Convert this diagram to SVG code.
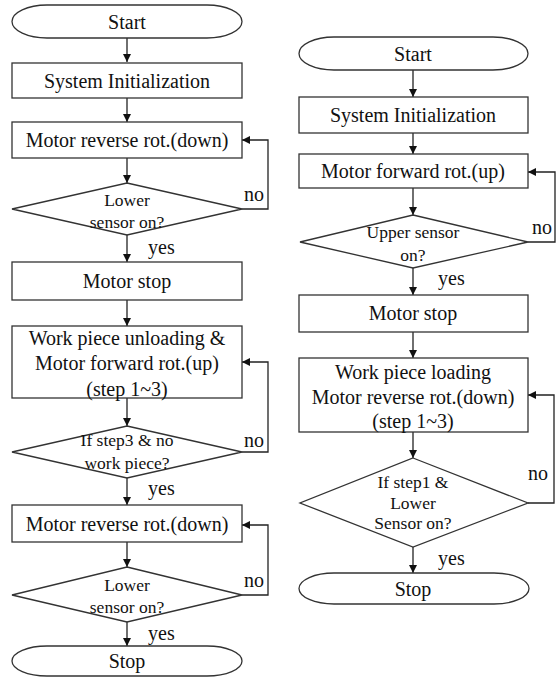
<svg xmlns="http://www.w3.org/2000/svg" width="558" height="677" viewBox="0 0 558 677">
<defs>
<marker id="ah" viewBox="0 0 10 10" refX="10" refY="5" markerWidth="8" markerHeight="8" markerUnits="userSpaceOnUse" orient="auto">
<path d="M0,0 L10,5 L0,10 z" fill="#111"/>
</marker>
</defs>
<style>
.s{fill:#fff;stroke:#333;stroke-width:1.3}
.t{font-family:"Liberation Serif","Times New Roman",serif;font-size:20px;fill:#111;text-anchor:middle;dominant-baseline:central}
.d{font-size:17.5px}
.l{font-family:"Liberation Serif","Times New Roman",serif;font-size:20px;fill:#111;dominant-baseline:central}
.c{fill:none;stroke:#222;stroke-width:1.3;marker-end:url(#ah)}
</style>
<rect width="558" height="677" fill="#fff"/>

<g id="connectors">
<path class="c" d="M127,38 V62"/>
<path class="c" d="M127,98 V122"/>
<path class="c" d="M127,158 V183"/>
<path class="c" d="M127,235 V262"/>
<path class="c" d="M127,300 V326"/>
<path class="c" d="M127,398 V426"/>
<path class="c" d="M127,478 V505"/>
<path class="c" d="M127,542 V567"/>
<path class="c" d="M127,622 V646"/>
<path class="c" d="M242,209 H268 V140 H242"/>
<path class="c" d="M242,452 H268 V362 H242"/>
<path class="c" d="M242,595 H268 V525 H242"/>

<path class="c" d="M413,70 V97"/>
<path class="c" d="M413,133 V154"/>
<path class="c" d="M413,188 V215"/>
<path class="c" d="M413,268 V295"/>
<path class="c" d="M413,332 V358"/>
<path class="c" d="M413,432 V458"/>
<path class="c" d="M413,547 V573"/>
<path class="c" d="M528,242 H555 V172 H528"/>
<path class="c" d="M528,503 H554 V395 H528"/>
<text class="l" x="148" y="247">yes</text>
<text class="l" x="148" y="488">yes</text>
<text class="l" x="148" y="633">yes</text>
<text class="l" x="244" y="194">no</text>
<text class="l" x="244" y="440">no</text>
<text class="l" x="244" y="580">no</text>
<text class="l" x="438" y="278">yes</text>
<text class="l" x="438" y="558">yes</text>
<text class="l" x="532" y="227">no</text>
<text class="l" x="528" y="473">no</text>
</g>

<g id="l-start"><rect class="s" x="12" y="5" width="230" height="33" rx="35" ry="16.5"/><text class="t" x="127" y="22">Start</text></g>
<g id="l-init"><rect class="s" x="12" y="63" width="230" height="35"/><text class="t" x="127" y="81">System Initialization</text></g>
<g id="l-rev1"><rect class="s" x="12" y="122" width="230" height="36"/><text class="t" x="127" y="140">Motor reverse rot.(down)</text></g>
<g id="l-dec1"><polygon class="s" points="127,183 242,209 127,235 12,209"/><text class="t d" x="127" y="200">Lower</text><text class="t d" x="127" y="222">sensor on?</text></g>
<g id="l-stop1"><rect class="s" x="12" y="262" width="230" height="38"/><text class="t" x="127" y="281">Motor stop</text></g>
<g id="l-unload"><rect class="s" x="12" y="326" width="230" height="72"/><text class="t" x="127" y="338">Work piece unloading &amp;</text><text class="t" x="127" y="363">Motor forward rot.(up)</text><text class="t" x="127" y="389">(step 1~3)</text></g>
<g id="l-dec2"><polygon class="s" points="127,426 242,452 127,478 12,452"/><text class="t d" x="127" y="440">If step3 &amp; no</text><text class="t d" x="127" y="463">work piece?</text></g>
<g id="l-rev2"><rect class="s" x="12" y="505" width="230" height="37"/><text class="t" x="127" y="524">Motor reverse rot.(down)</text></g>
<g id="l-dec3"><polygon class="s" points="127,567 242,595 127,622 12,595"/><text class="t d" x="127" y="585">Lower</text><text class="t d" x="127" y="607">sensor on?</text></g>
<g id="l-end"><rect class="s" x="12" y="646" width="230" height="30" rx="35" ry="15"/><text class="t" x="127" y="661">Stop</text></g>

<g id="r-start"><rect class="s" x="299" y="37" width="229" height="33" rx="35" ry="16.5"/><text class="t" x="413" y="54">Start</text></g>
<g id="r-init"><rect class="s" x="299" y="97" width="229" height="36"/><text class="t" x="413" y="115">System Initialization</text></g>
<g id="r-fwd"><rect class="s" x="299" y="154" width="229" height="34"/><text class="t" x="413" y="171">Motor forward rot.(up)</text></g>
<g id="r-dec1"><polygon class="s" points="413,215 528,242 413,268 300,242"/><text class="t d" x="413" y="232">Upper sensor</text><text class="t d" x="413" y="255">on?</text></g>
<g id="r-stop1"><rect class="s" x="299" y="295" width="229" height="37"/><text class="t" x="413" y="313">Motor stop</text></g>
<g id="r-load"><rect class="s" x="299" y="358" width="229" height="74"/><text class="t" x="413" y="372">Work piece loading</text><text class="t" x="413" y="397">Motor reverse rot.(down)</text><text class="t" x="413" y="421">(step 1~3)</text></g>
<g id="r-dec2"><polygon class="s" points="413,458 528,503 413,547 300,503"/><text class="t d" x="413" y="482">If step1 &amp;</text><text class="t d" x="413" y="503">Lower</text><text class="t d" x="413" y="523">Sensor on?</text></g>
<g id="r-end"><rect class="s" x="299" y="573" width="230" height="31" rx="35" ry="15.5"/><text class="t" x="413" y="589">Stop</text></g>
</svg>
